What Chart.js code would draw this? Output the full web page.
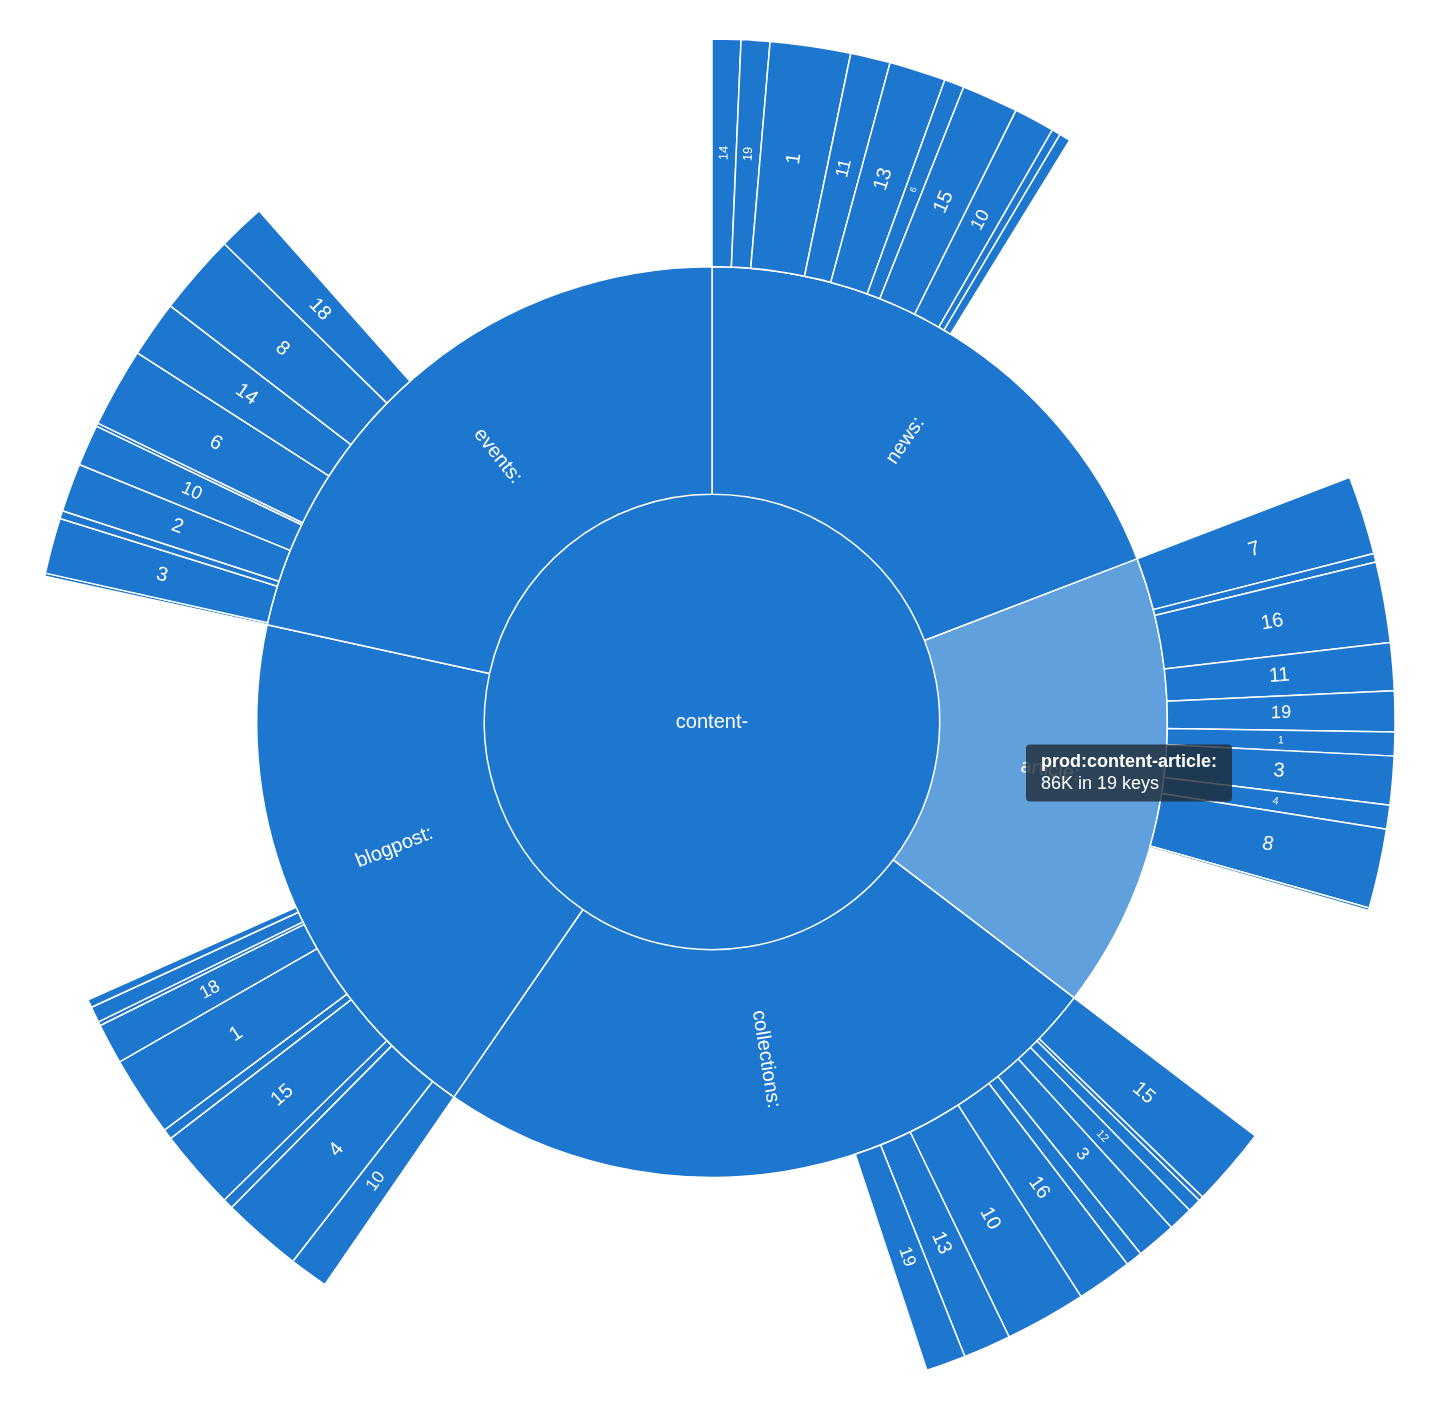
<!DOCTYPE html>
<html>
<head>
<meta charset="utf-8">
<script src="https://cdn.jsdelivr.net/npm/chart.js@4.4.1/dist/chart.umd.min.js"></script>
<style>
html,body{margin:0;padding:0;background:#fff;}
#wrap{position:relative;width:1430px;height:1418px;}
</style>
</head>
<body>
<div id="wrap"><canvas id="c"></canvas></div>
<script>
// ---- data (sizes in K) ----
const rootPrefix = 'prod:';
const centerLabel = 'content-';
const parentNames = ['news:', 'article:', 'collections:', 'blogpost:', 'events:'];
const parentSizesK = [101.8, 86.0, 128.7, 100.0, 114.6];
const parentKeys = [19, 19, 19, 19, 19];

const newsLeafNames  = ['14', '19', '1', '11', '13', '6', '15', '10', '2', '5'];
const newsLeafSizesK = [3.6, 3.6, 10.1, 5.0, 7.1, 2.5, 7.1, 5.1, 1.1, 1.4];

const articleLeafNames  = ['7', '9', '16', '11', '19', '1', '3', '4', '8', '2'];
const articleLeafSizesK = [9.9, 1.1, 10.1, 6.0, 5.1, 3.0, 6.1, 3.0, 10.0, 0.3];

const collectionsLeafNames  = ['15', '2', '7', '12', '3', '5', '16', '10', '13', '19'];
const collectionsLeafSizesK = [10.0, 0.6, 1.7, 3.1, 5.0, 2.1, 7.0, 10.2, 6.0, 5.0];

const blogpostLeafNames  = ['10', '4', '3', '15', '6', '1', '18', '2', '7', '9'];
const blogpostLeafSizesK = [4.9, 10.1, 1.3, 10.1, 1.3, 10.1, 5.1, 0.5, 2.0, 1.0];

const eventsLeafNames  = ['4', '3', '7', '2', '10', '5', '6', '14', '8', '18'];
const eventsLeafSizesK = [0.4, 7.0, 1.0, 6.1, 5.2, 0.4, 10.0, 7.1, 10.2, 5.9];

const leafNames = [newsLeafNames, articleLeafNames, collectionsLeafNames, blogpostLeafNames, eventsLeafNames];
const leafSizes = [newsLeafSizesK, articleLeafSizesK, collectionsLeafSizesK, blogpostLeafSizesK, eventsLeafSizesK];
const highlightedParent = 1;

// ---- styles ----
const BLUE = 'rgb(30,119,206)';
const LIGHT = 'rgb(96,160,220)';
const FONT = "'Liberation Sans', Arial, sans-serif";
const OUTER_RADIUS = 683;

// ---- build datasets ----
const leafValues = [], leafText = [], leafBg = [], leafBw = [];
parentNames.forEach((p, pi) => {
  let sum = 0;
  leafSizes[pi].forEach((v, li) => {
    leafValues.push(v); leafText.push(leafNames[pi][li]);
    leafBg.push(BLUE); leafBw.push(1.5); sum += v;
  });
  const gap = parentSizesK[pi] - sum;
  if (gap > 0) { leafValues.push(gap); leafText.push(''); leafBg.push('rgba(0,0,0,0)'); leafBw.push(0); }
});
const totalK = parentSizesK.reduce((a, b) => a + b, 0);

const labelPlugin = {
  id: 'sunLabels',
  afterDatasetsDraw(chart) {
    const ctx = chart.ctx;
    ctx.save();
    ctx.fillStyle = '#fff';
    ctx.textAlign = 'center';
    ctx.textBaseline = 'middle';
    chart.data.datasets.forEach((ds, di) => {
      const meta = chart.getDatasetMeta(di);
      meta.data.forEach((arc, i) => {
        const text = ds.texts[i];
        if (!text) return;
        const p = arc.getProps(['x', 'y', 'startAngle', 'endAngle', 'innerRadius', 'outerRadius'], true);
        if (ds.ring === 'center') {
          ctx.font = '20px ' + FONT;
          ctx.fillText(text, p.x, p.y);
          return;
        }
        const span = p.endAngle - p.startAngle;
        let size = 20;
        if (ds.ring === 'leaf') {
          size = Math.min(20, p.innerRadius * span * 0.66);
          if (size < 8) return;
        }
        const mid = (p.startAngle + p.endAngle) / 2;
        const r = (p.innerRadius + p.outerRadius) / 2;
        const px = p.x + r * Math.cos(mid), py = p.y + r * Math.sin(mid);
        let deg = (mid * 180 / Math.PI + 90) % 360; if (deg < 0) deg += 360;
        const rot = deg < 180 ? mid : mid + Math.PI;
        ctx.save();
        ctx.translate(px, py);
        ctx.rotate(rot);
        ctx.font = size.toFixed(1) + 'px ' + FONT;
        ctx.fillText(text, 0, 0);
        ctx.restore();
      });
    });
    ctx.restore();
  }
};

Chart.Tooltip.positioners.atEvent = function (items, pos) {
  return pos ? { x: pos.x, y: pos.y } : false;
};

const chart = new Chart(document.getElementById('c'), {
  type: 'pie',
  data: {
    labels: leafText,
    datasets: [
      { ring: 'leaf', data: leafValues, texts: leafText, backgroundColor: leafBg, borderWidth: leafBw, borderColor: '#fff', radius: OUTER_RADIUS },
      { ring: 'mid', data: parentSizesK, texts: parentNames, radius: OUTER_RADIUS,
        backgroundColor: parentNames.map((n, i) => i === highlightedParent ? LIGHT : BLUE), borderWidth: 1.5, borderColor: '#fff' },
      { ring: 'center', data: [totalK], texts: [centerLabel], backgroundColor: [BLUE], borderWidth: 0, radius: OUTER_RADIUS }
    ]
  },
  options: {
    responsive: true,
    maintainAspectRatio: false,
    animation: false,
    events: [],
    hoverOffset: 0,
    layout: { padding: { top: 38, bottom: 12, left: 0, right: 6 } },
    plugins: {
      legend: { display: false },
      tooltip: {
        enabled: true,
        position: 'atEvent',
        xAlign: 'left', yAlign: 'center',
        caretSize: 0, caretPadding: 0,
        backgroundColor: 'rgba(30,40,50,0.78)',
        cornerRadius: 4,
        displayColors: false,
        padding: { top: 7, bottom: 7, left: 15, right: 15 },
        titleFont: { family: FONT, size: 18, weight: 'bold' },
        bodyFont: { family: FONT, size: 18 },
        titleMarginBottom: 0,
        titleColor: '#fff', bodyColor: '#fff',
        callbacks: {
          title: items => rootPrefix + centerLabel + parentNames[items[0].dataIndex],
          label: item => Math.round(parentSizesK[item.dataIndex]) + 'K in ' + parentKeys[item.dataIndex] + ' keys'
        }
      }
    }
  },
  plugins: [labelPlugin]
});

chart.tooltip.setActiveElements([{ datasetIndex: 1, index: highlightedParent }], { x: 1026, y: 773 });
chart.update();
</script>
</body>
</html>
